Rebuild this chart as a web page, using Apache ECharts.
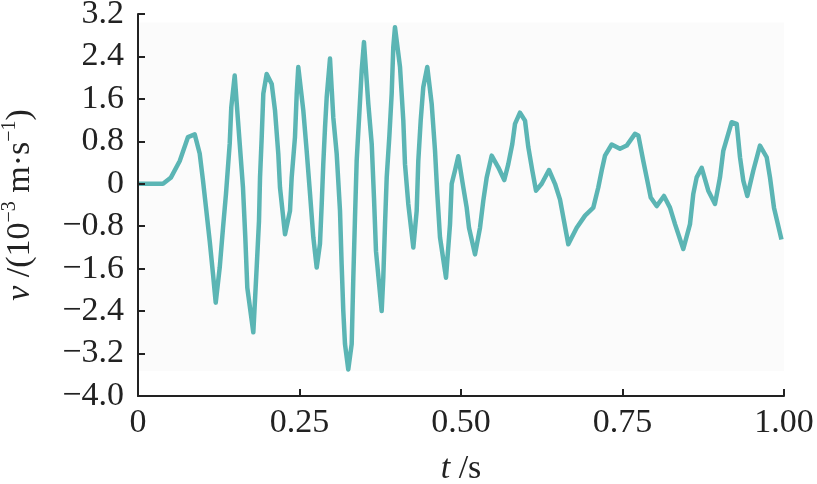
<!DOCTYPE html>
<html>
<head>
<meta charset="utf-8">
<title>v - t</title>
<script src="https://cdn.jsdelivr.net/npm/echarts@6/dist/echarts.min.js"></script>
<style>
  html, body { margin: 0; padding: 0; background: #fff; }
  #chart { width: 817px; height: 484px; }
</style>
</head>
<body>
<div id="chart"></div>
<script>
// 时间 t / s
const tData = [
  0, 0.0387, 0.0511, 0.0646, 0.0774, 0.0878, 0.0955, 0.1006, 0.1053, 0.1110,
  0.1161, 0.1203, 0.1265, 0.1316, 0.1362, 0.1420, 0.1444, 0.1497, 0.1548, 0.1625,
  0.1661, 0.1692, 0.1785, 0.1837, 0.1873, 0.1889, 0.1915, 0.1940, 0.1992, 0.2070,
  0.2121, 0.2172, 0.2198, 0.2276, 0.2353, 0.2379, 0.2430, 0.2457, 0.2481, 0.2559,
  0.2611, 0.2663, 0.2714, 0.2766, 0.2817, 0.2844, 0.2868, 0.2895, 0.2921, 0.2972,
  0.3023, 0.3076, 0.3127, 0.3152, 0.3178, 0.3204, 0.3255, 0.3308, 0.3333, 0.3359,
  0.3385, 0.3426, 0.3463, 0.3498, 0.3565, 0.3618, 0.3653, 0.3684, 0.3772, 0.3797,
  0.3824, 0.3850, 0.3890, 0.3927, 0.3952, 0.3978, 0.4056, 0.4107, 0.4133, 0.4184,
  0.4262, 0.4314, 0.4339, 0.4376, 0.4416, 0.4478, 0.4546, 0.4598, 0.4633, 0.4675,
  0.4768, 0.4830, 0.4856, 0.4907, 0.4958, 0.5036, 0.5088, 0.5124, 0.5217, 0.5294,
  0.5345, 0.5398, 0.5475, 0.5577, 0.5670, 0.5732, 0.5794, 0.5836, 0.5913, 0.5991,
  0.6042, 0.6104, 0.6161, 0.6249, 0.6362, 0.6455, 0.6533, 0.6594, 0.6661, 0.6791,
  0.6920, 0.7048, 0.7125, 0.7178, 0.7229, 0.7333, 0.7461, 0.7565, 0.7693, 0.7745,
  0.7822, 0.7884, 0.7937, 0.8029, 0.8142, 0.8235, 0.8313, 0.8441, 0.8545, 0.8596,
  0.8648, 0.8726, 0.8828, 0.8932, 0.9009, 0.9060, 0.9190, 0.9268, 0.9319, 0.9370,
  0.9432, 0.9525, 0.9628, 0.9732, 0.9783, 0.9845, 0.9961
]
// 速度 v / (10^-3 m/s)
const vData = [
  0, 0, 0.12, 0.43, 0.88, 0.93, 0.57, 0.06, -0.45, -1.08,
  -1.7, -2.24, -1.58, -0.83, -0.19, 0.76, 1.44, 2.04, 1.19, -0.07,
  -1.01, -1.96, -2.8, -1.58, -0.7, 0.12, 0.88, 1.7, 2.07, 1.88,
  1.38, 0.56, -0.07, -0.95, -0.51, 0.12, 0.88, 1.7, 2.2, 1.38,
  0.62, -0.19, -1.01, -1.58, -1.13, -0.38, 0.37, 1.06, 1.63, 2.36,
  1.25, 0.56, -0.51, -1.51, -2.4, -3.02, -3.5, -3.02, -1.77, -0.64,
  0.43, 1.32, 2.14, 2.67, 1.51, 0.75, -0.26, -1.27, -2.4, -1.77,
  -0.76, 0.12, 0.88, 1.7, 2.58, 2.95, 2.2, 1.19, 0.37, -0.38,
  -1.2, -0.51, 0.43, 1.19, 1.82, 2.2, 1.51, 0.62, -0.19, -1.01,
  -1.77, -0.76, 0, 0.25, 0.52, -0.07, -0.45, -0.83, -1.33, -0.83,
  -0.32, 0.12, 0.53, 0.31, 0.07, 0.37, 0.75, 1.13, 1.34, 1.19,
  0.69, 0.25, -0.13, 0, 0.26, 0, -0.3, -0.7, -1.14, -0.83,
  -0.6, -0.45, -0.07, 0.25, 0.53, 0.74, 0.66, 0.72, 0.94, 0.91,
  0.43, 0.06, -0.26, -0.42, -0.23, -0.45, -0.76, -1.23, -0.76, -0.19,
  0.12, 0.3, -0.13, -0.38, 0.12, 0.62, 1.16, 1.13, 0.5, 0.06,
  -0.23, 0.25, 0.72, 0.5, 0.12, -0.45, -1.05
]

const xMin = 0, xMax = 1, xStep = 0.25
const yMin = -4, yMax = 3.2, yStep = 0.8

const FONT = '"Liberation Serif", "DejaVu Serif", serif'
const minus = s => s.replace('-', '\u2212')

const chart = echarts.init(document.getElementById('chart'))

const axisLine = { show: true, onZero: false, lineStyle: { color: '#222', width: 2 } }
const axisTick = { show: true, inside: true, length: 7, lineStyle: { color: '#222', width: 2 } }

chart.setOption({
  animation: false,
  backgroundColor: '#fff',
  grid: {
    left: 138,
    right: 33,
    top: 14,
    bottom: 88,
    containLabel: false,
    outerBoundsMode: 'none'
  },
  xAxis: {
    type: 'value',
    z: 10,
    min: xMin,
    max: xMax,
    interval: xStep,
    axisLine: axisLine,
    axisTick: axisTick,
    splitLine: { show: false },
    axisLabel: {
      margin: 10,
      color: '#222',
      fontFamily: FONT,
      fontSize: 34,
      formatter: v => (v === 0 ? '0' : v.toFixed(2))
    },
    name: '{i|t} /s',
    nameLocation: 'middle',
    nameGap: 56,
    nameTextStyle: {
      color: '#222',
      fontFamily: FONT,
      fontSize: 34,
      rich: {
        i: { fontFamily: FONT, fontSize: 34, fontStyle: 'italic', color: '#222' }
      }
    }
  },
  yAxis: {
    type: 'value',
    z: 10,
    min: yMin,
    max: yMax,
    interval: yStep,
    axisLine: axisLine,
    axisTick: axisTick,
    splitLine: { show: false },
    axisLabel: {
      margin: 14,
      color: '#222',
      fontFamily: FONT,
      fontSize: 34,
      formatter: v => (Math.abs(v) < 1e-9 ? '0' : minus(v.toFixed(1)))
    },
    name: '{i|v}{n| /(10}{s|\u22123}{n| m\u00b7s}{s|\u22121}{n|)}',
    nameLocation: 'middle',
    nameGap: 98,
    nameRotate: 90,
    nameTextStyle: {
      color: '#222',
      fontFamily: FONT,
      fontSize: 34,
      rich: {
        i: { fontFamily: FONT, fontSize: 34, fontStyle: 'italic', color: '#222', lineHeight: 40 },
        n: { fontFamily: FONT, fontSize: 34, color: '#222', lineHeight: 40 },
        s: { fontFamily: FONT, fontSize: 20, color: '#222', verticalAlign: 'top', lineHeight: 40, padding: [0, 0, 14, 0] }
      }
    }
  },
  series: [
    {
      type: 'line',
      data: tData.map((t, i) => [t, vData[i]]),
      showSymbol: false,
      lineStyle: { color: '#5bb5b4', width: 4.5, join: 'round' },
      z: 3,
      markArea: {
        silent: true,
        itemStyle: { color: '#fbfbfb' },
        data: [[{ xAxis: 0, yAxis: 3.04 }, { xAxis: 1, yAxis: -3.53 }]]
      }
    }
  ]
})

window.addEventListener('resize', () => chart.resize())
</script>
</body>
</html>
